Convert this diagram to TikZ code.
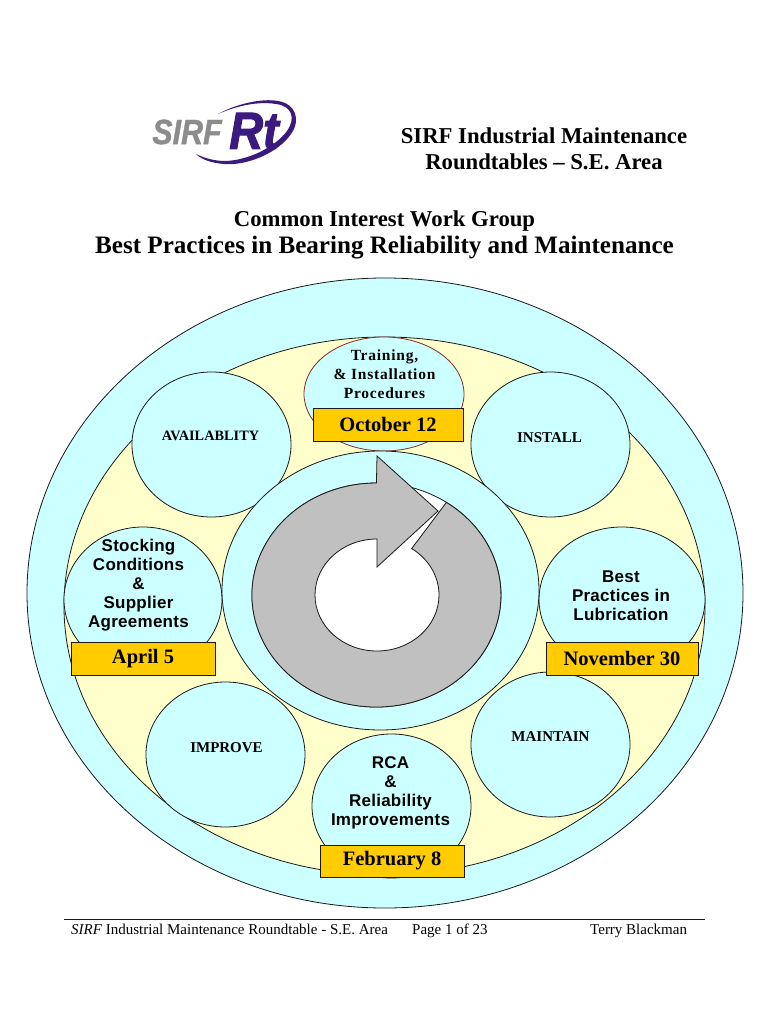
\documentclass[tikz,border=0pt]{standalone}
\usepackage{fontspec}
\setmainfont{Liberation Serif}
\newfontfamily\lsans[LetterSpace=1.5]{Liberation Sans}
\newfontfamily\swide[LetterSpace=5]{Liberation Serif}
\newfontfamily\lsansw[BoldItalicFeatures={FakeBold=1.2}]{Liberation Sans}
\newfontfamily\lsanst[BoldItalicFeatures={FakeBold=2.2}]{Liberation Sans}
\usetikzlibrary{shapes.geometric}
\definecolor{cy}{HTML}{CCFFFF}
\definecolor{yl}{HTML}{FFFFCC}
\definecolor{gd}{HTML}{FFCC00}
\definecolor{gr}{HTML}{C0C0C0}
\definecolor{pu}{HTML}{3A1A7E}
\definecolor{lg}{HTML}{8C8C8C}
\definecolor{ln}{HTML}{1A1A1A}
\definecolor{br}{HTML}{8A2A2A}
\tikzset{
 oval/.style={ellipse,draw=ln,line width=.8pt,inner sep=0pt,outer sep=0pt},
 bubble/.style={oval,fill=cy},
 datebox/.style={rectangle,draw=ln,line width=.8pt,fill=gd,inner sep=0pt,outer sep=0pt,font=\bfseries\fontsize{20.5}{21}\selectfont},
 sanslab/.style={align=center,inner sep=0pt,font=\lsans\bfseries\fontsize{17}{19}\selectfont},
 serlab/.style={align=center,inner sep=0pt,font=\bfseries\fontsize{15}{16}\selectfont},
 title/.style={align=center,inner sep=0pt,font=\bfseries\fontsize{22.7}{26}\selectfont},
 foot/.style={inner sep=0pt,anchor=base west,font=\fontsize{15}{16}\selectfont},
}
\begin{document}
\begin{tikzpicture}[x=1pt,y=-1pt]
\useasboundingbox (0,0) rectangle (768,1024);
\fill[white] (0,0) rectangle (768,1024);
% logo
\fill[pu] (218,114) .. controls (236,104) and (262,98) .. (278,101) .. controls (296,104) and (301,120) .. (291,134)
 .. controls (279,152) and (248,166) .. (224,164) .. controls (212,163) and (202,160) .. (196,154)
 .. controls (206,159) and (216,161) .. (226,161) .. controls (250,160) and (276,146) .. (287,131)
 .. controls (296,118) and (292,106) .. (276,104) .. controls (258,101) and (236,106) .. (218,114) -- cycle;
\node[inner sep=0pt,text=lg,xscale=.87,font=\lsansw\bfseries\itshape\fontsize{35}{35}\selectfont] (sirf) at (187,132) {SIRF};
\node[inner sep=0pt,text=pu,xscale=.9,font=\lsanst\bfseries\itshape\fontsize{52}{52}\selectfont] (rt) at (254,131) {Rt};
% titles
\node[title] (t1) at (544,149) {SIRF Industrial Maintenance\\Roundtables – S.E. Area};
\node[title] (t2) at (384.5,221) {Common Interest Work Group};
\node[title,font=\bfseries\fontsize{25.1}{26}\selectfont] (t3) at (384.5,247.5) {Best Practices in Bearing Reliability and Maintenance};
% ellipses
\node[bubble,minimum width=716pt,minimum height=630pt] (outer) at (385,593) {};
\node[oval,fill=yl,minimum width=641pt,minimum height=538pt] (inner) at (384.5,606) {};
\node[bubble,draw=br,minimum width=160pt,minimum height=114pt] (etrain) at (384,394) {};
\node[bubble,minimum width=159pt,minimum height=145pt] (eavail) at (211.5,444.5) {};
\node[bubble,minimum width=159pt,minimum height=145pt] (einstall) at (550.5,444.5) {};
\node[bubble,minimum width=158pt,minimum height=145pt] (estock) at (143,599.5) {};
\node[bubble,minimum width=166pt,minimum height=145pt] (elube) at (622,599.5) {};
\node[bubble,minimum width=159pt,minimum height=145pt] (eimprove) at (225.5,754.5) {};
\node[bubble,minimum width=159pt,minimum height=145pt] (emaintain) at (550.5,744.5) {};
\node[bubble,minimum width=159pt,minimum height=144pt] (erca) at (391.5,806) {};
\node[bubble,minimum width=317pt,minimum height=279pt] (centre) at (380.5,590.5) {};
% arrow
\node[oval,fill=white,minimum width=249pt,minimum height=224pt] (ring) at (376.5,595) {};
\draw[ln,line width=.8pt,fill=gr,line join=miter]
 (446.4,502.4) arc[start angle=55.8,end angle=-270,x radius=124.5pt,y radius=112pt]
 -- (377,456) -- (438,511) -- (377,567) -- (377,539)
 arc[start angle=90,end angle=416,x radius=62pt,y radius=56pt] -- cycle;
% boxes
\node[datebox,minimum width=150pt,minimum height=33pt] (oct) at (388,424.5) {October 12};
\node[datebox,minimum width=144pt,minimum height=33pt] (apr) at (143,658.5) {April 5};
\node[datebox,minimum width=152pt,minimum height=33pt] (nov) at (622,658.5) {November 30};
\node[datebox,minimum width=144pt,minimum height=32pt] (feb) at (392,861) {February 8};
% labels
\node[align=center,inner sep=0pt,font=\swide\bfseries\fontsize{15.5}{19}\selectfont] (ltrain) at (384.5,374) {Training,\\\& Installation\\Procedures};
\node[serlab,font=\bfseries\fontsize{14.3}{16}\selectfont] (lavail) at (210.5,435.5) {AVAILABLITY};
\node[serlab] (linstall) at (549.5,437.5) {INSTALL};
\node[serlab] (limprove) at (226.5,747.5) {IMPROVE};
\node[serlab] (lmaintain) at (550.5,736.5) {MAINTAIN};
\node[sanslab] (lstock) at (138.5,585) {Stocking\\Conditions\\\&\\Supplier\\Agreements};
\node[sanslab] (llube) at (621,595.5) {Best\\Practices in\\Lubrication};
\node[sanslab] (lrca) at (390.5,793) {RCA\\\&\\Reliability\\Improvements};
% footer
\coordinate (fa) at (64,919);
\coordinate (fb) at (705,919);
\draw[ln,line width=.9pt] (fa) -- (fb);
\node[foot] (f1) at (71,934) {\textit{SIRF} Industrial Maintenance Roundtable - S.E. Area};
\node[foot] (f2) at (412,934) {Page 1 of 23};
\node[foot] (f3) at (590,934) {Terry Blackman};
\end{tikzpicture}
\end{document}
